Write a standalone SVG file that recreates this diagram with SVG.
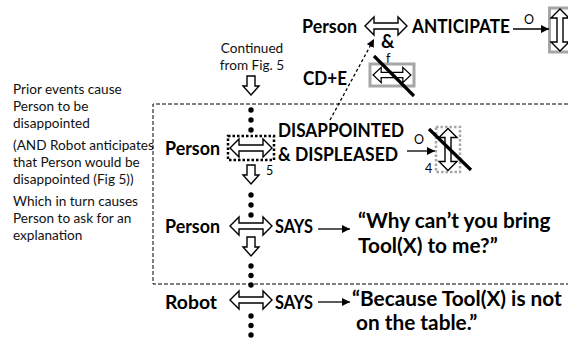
<svg xmlns="http://www.w3.org/2000/svg" xmlns:xlink="http://www.w3.org/1999/xlink" width="568" height="340" viewBox="0 0 568 340">
<style>
.lbl{font-family:Lato,"Liberation Sans",sans-serif;font-weight:bold;font-size:18.5px;fill:#000}
.q{font-family:Lato,"Liberation Sans",sans-serif;font-weight:bold;font-size:20.8px;fill:#000}
.note{font-family:Lato,"Liberation Sans",sans-serif;font-size:13.6px;fill:#111}
.sm{font-family:Lato,"Liberation Sans",sans-serif;font-size:12.5px;fill:#000}
.blk{fill:#fff;stroke:#000;stroke-width:1.4;stroke-linejoin:miter}
.ln{stroke:#000;stroke-width:1.3;fill:none}
.dot{fill:#000}
.strike{stroke:#000;stroke-width:3.2;stroke-linecap:butt}
</style>
<defs>
<path id="dh" d="M-21,0 L-12,-9 L-12,-3 L12,-3 L12,-9 L21,0 L12,9 L12,3 L-12,3 L-12,9 Z"/>
<path id="da" d="M-4,0 H4 V10 H8 L0,19 L-8,10 H-4 Z"/>
<marker id="ah" viewBox="0 0 10 10" refX="10" refY="5" markerWidth="8" markerHeight="8" markerUnits="userSpaceOnUse" orient="auto">
<path d="M0,0 L10,5 L0,10 z" fill="#000"/>
</marker>
</defs>
<rect width="568" height="340" fill="#fff"/>

<g id="notes">
<text class="note" x="13" y="94">Prior events cause</text>
<text class="note" x="13" y="111">Person to be</text>
<text class="note" x="13" y="128">disappointed</text>
<text class="note" x="13" y="150">(AND Robot anticipates</text>
<text class="note" x="13" y="167">that Person would be</text>
<text class="note" x="13" y="184">disappointed (Fig 5))</text>
<text class="note" x="13" y="206">Which in turn causes</text>
<text class="note" x="13" y="223">Person to ask for an</text>
<text class="note" x="13" y="240">explanation</text>
</g>

<g id="frame">
<path d="M568,104 H153 V284 H568" fill="none" stroke="#000" stroke-width="1" stroke-dasharray="4,2"/>
</g>

<g id="continued">
<text class="note" x="252" y="53" text-anchor="middle">Continued</text>
<text class="note" x="252" y="70" text-anchor="middle">from Fig. 5</text>
</g>

<g id="top-anticipate">
<text class="lbl" x="302" y="33" textLength="55" lengthAdjust="spacingAndGlyphs">Person</text>
<use xlink:href="#dh" class="blk" transform="translate(386,26)"/>
<text class="lbl" x="412" y="33" textLength="98" lengthAdjust="spacingAndGlyphs">ANTICIPATE</text>
<text class="sm" x="529" y="24" text-anchor="middle">O</text>
<rect x="549.5" y="8" width="30" height="44" fill="none" stroke="#a6a6a6" stroke-width="3"/>
<use xlink:href="#dh" class="blk" transform="translate(560,30) rotate(90)"/>
</g>

<g id="top-and">
<text class="lbl" x="381" y="48" font-size="19.5px">&amp;</text>
</g>

<g id="top-negated">
<text class="sm" x="386" y="63" font-size="11.5px">f</text>
<rect x="370" y="64" width="44" height="22" fill="none" stroke="#a6a6a6" stroke-width="3"/>
<use xlink:href="#dh" class="blk" transform="translate(392,75) scale(0.9,0.85)"/>
<line class="strike" x1="374" y1="56" x2="414" y2="96"/>
</g>

<g id="cde">
<text class="lbl" x="303" y="85" textLength="44" lengthAdjust="spacingAndGlyphs">CD+E</text>
</g>

<g id="person-disappointed">
<text class="lbl" x="165" y="155" textLength="55" lengthAdjust="spacingAndGlyphs">Person</text>
<rect x="228" y="136" width="46" height="24" fill="none" stroke="#000" stroke-width="2.5" stroke-dasharray="2.5,2"/>
<use xlink:href="#dh" class="blk" transform="translate(251,148)"/>
<text class="sm" x="266" y="175">5</text>
<text class="lbl" x="278" y="137" textLength="126" lengthAdjust="spacingAndGlyphs">DISAPPOINTED</text>
<text class="lbl" x="278" y="161" textLength="120" lengthAdjust="spacingAndGlyphs">&amp; DISPLEASED</text>
<text class="sm" x="419" y="144" text-anchor="middle">O</text>
<text class="sm" x="425" y="173">4</text>
<rect x="436" y="127" width="24" height="45" fill="none" stroke="#a6a6a6" stroke-width="2.5" stroke-dasharray="2.5,2"/>
<use xlink:href="#dh" class="blk" transform="translate(448,149.5) rotate(90)"/>
<line class="strike" x1="429" y1="129" x2="471" y2="170"/>
</g>

<g id="person-says">
<text class="lbl" x="165" y="233" textLength="55" lengthAdjust="spacingAndGlyphs">Person</text>
<use xlink:href="#dh" class="blk" transform="translate(251,226)"/>
<text class="lbl" x="275" y="233" textLength="38" lengthAdjust="spacingAndGlyphs">SAYS</text>
<text class="q" x="358" y="228">“Why can’t you bring</text>
<text class="q" x="358" y="253">Tool(X) to me?”</text>
</g>

<g id="robot-says">
<text class="lbl" x="165" y="309" textLength="52" lengthAdjust="spacingAndGlyphs">Robot</text>
<use xlink:href="#dh" class="blk" transform="translate(251,300)"/>
<text class="lbl" x="275" y="309" textLength="38" lengthAdjust="spacingAndGlyphs">SAYS</text>
<text class="q" x="352" y="306">“Because Tool(X) is not</text>
<text class="q" x="356" y="330">on the table.”</text>
</g>

<g id="connectors">
<line class="ln" x1="513" y1="29" x2="549" y2="29" marker-end="url(#ah)"/>
<line class="ln" x1="330" y1="120" x2="374" y2="39" stroke-dasharray="3,2.5" marker-end="url(#ah)"/>
<line class="ln" x1="407" y1="151" x2="435" y2="151" marker-end="url(#ah)"/>
<line class="ln" x1="318" y1="229" x2="350" y2="229" marker-end="url(#ah)"/>
<line class="ln" x1="318" y1="302" x2="350" y2="302" marker-end="url(#ah)"/>
<use xlink:href="#da" class="blk" transform="translate(251,76)"/>
<use xlink:href="#da" class="blk" transform="translate(251,165)"/>
<use xlink:href="#da" class="blk" transform="translate(251,237)"/>
<circle class="dot" cx="251" cy="110" r="2.7"/>
<circle class="dot" cx="251" cy="120" r="2.7"/>
<circle class="dot" cx="251" cy="130" r="2.7"/>
<circle class="dot" cx="251" cy="195" r="2.7"/>
<circle class="dot" cx="251" cy="205" r="2.7"/>
<circle class="dot" cx="251" cy="215" r="2.7"/>
<circle class="dot" cx="251" cy="266" r="2.7"/>
<circle class="dot" cx="251" cy="275.5" r="2.7"/>
<circle class="dot" cx="251" cy="285" r="2.7"/>
<circle class="dot" cx="251" cy="316" r="2.7"/>
<circle class="dot" cx="251" cy="325.5" r="2.7"/>
<circle class="dot" cx="251" cy="335" r="2.7"/>
</g>
</svg>
